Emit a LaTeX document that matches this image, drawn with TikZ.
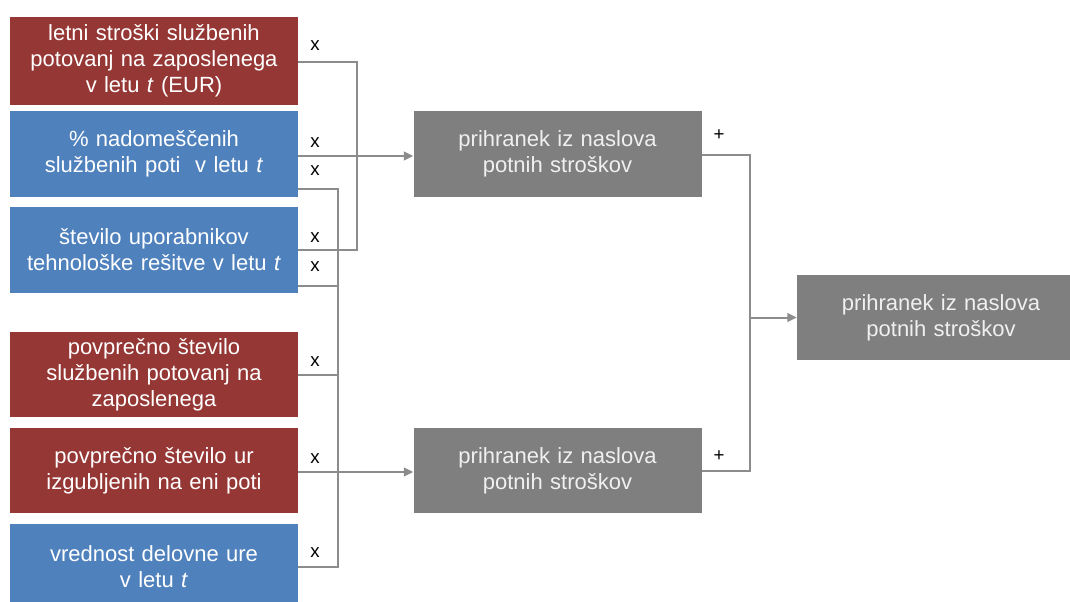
\documentclass[tikz,border=0pt]{standalone}
\usepackage{fontspec}
\setmainfont{Liberation Sans}
\usetikzlibrary{calc,arrows.meta}
\definecolor{boxred}{HTML}{953735}
\definecolor{boxblue}{HTML}{4F81BD}
\definecolor{boxgray}{HTML}{7F7F7F}
\definecolor{linegray}{HTML}{8C8C8C}
\begin{document}
\begin{tikzpicture}[x=0.75pt,y=-0.75pt,
  box/.style={rectangle, minimum width=216pt, inner sep=0pt, text width=210pt,
    align=center, text=white, font=\fontsize{16.5}{19.5}\selectfont},
  redbox/.style={box, fill=boxred},
  bluebox/.style={box, fill=boxblue},
  graybox/.style={box, fill=boxgray, text=white!94!black},
  conn/.style={draw=linegray, line width=1.5pt},
  arr/.style={conn, -{Triangle[length=7pt,width=6.5pt]}},
  op/.style={font=\fontsize{14}{16}\selectfont, text=black, inner sep=0pt}]
\useasboundingbox (0,0) rectangle (1070,601);
\clip (0,0) rectangle (1070,601);
\fill[white] (0,0) rectangle (1070,601);

% input factors
\node[redbox, minimum height=66pt] (b1) at (154,61)
  {letni stroški službenih\\potovanj na zaposlenega\\v letu \textit{t} (EUR)};
\node[bluebox, minimum height=64.5pt] (b2) at (154,154)
  {\% nadomeščenih\\službenih poti\ \ v letu \textit{t}};
\node[bluebox, minimum height=64.5pt] (b3) at (154,250)
  {število uporabnikov\\tehnološke rešitve v letu \textit{t}};
\node[redbox, minimum height=63.75pt] (b4) at (154,374.5)
  {povprečno število\\službenih potovanj na\\zaposlenega};
\node[redbox, minimum height=63.75pt] (b5) at (154,470.5)
  {povprečno število ur\\izgubljenih na eni poti};
\node[bluebox, minimum height=64.5pt] (b6) at (154,567)
  {vrednost delovne ure\\v letu \textit{t}};

% partial and total savings
\node[graybox, minimum height=64.5pt] (m1) at (557.5,154) {prihranek iz naslova\\potnih stroškov};
\node[graybox, minimum height=63.75pt] (m2) at (557.5,470.5) {prihranek iz naslova\\potnih stroškov};
\node[graybox, minimum height=64pt] (r) at (941,317.5) {prihranek iz naslova\\potnih stroškov};

% junction columns
\coordinate (ja) at (357,0);
\coordinate (jb) at (338,0);
\coordinate (jc) at (750,0);

% first product: cost per employee times users
\draw[conn] ($(b1.east)+(0,1)$) -| (ja |- b3.east) -- (b3.east);
\draw[arr] ($(b2.east)+(0,2)$) -- ($(m1.west)+(0,2)$);

% second product
\draw[conn] ($(b2.east)+(0,35)$) -| (jb |- b6.east) -- (b6.east);
\draw[conn] ($(b3.east)+(0,36)$) -- ($(jb |- b3.east)+(0,36)$);
\draw[conn] (b4.east) -- (jb |- b4.east);
\draw[arr] ($(b5.east)+(0,1.5)$) -- ($(m2.west)+(0,1.5)$);

% sum of both savings
\draw[conn] ($(m1.east)+(0,1)$) -| (jc |- m2.east) -- (m2.east);
\draw[arr] (jc |- r.west) -- (r.west);

% operators
\node[op] (x1) at (315,46) {x};
\node[op] (x2) at (315,143) {x};
\node[op] (x3) at (315,171) {x};
\node[op] (x4) at (315,238) {x};
\node[op] (x5) at (315,267) {x};
\node[op] (x6) at (315,362) {x};
\node[op] (x7) at (315,459) {x};
\node[op] (x8) at (315,553) {x};
\node[op] (p1) at (719,135) {+};
\node[op] (p2) at (719,456) {+};
\end{tikzpicture}
\end{document}
